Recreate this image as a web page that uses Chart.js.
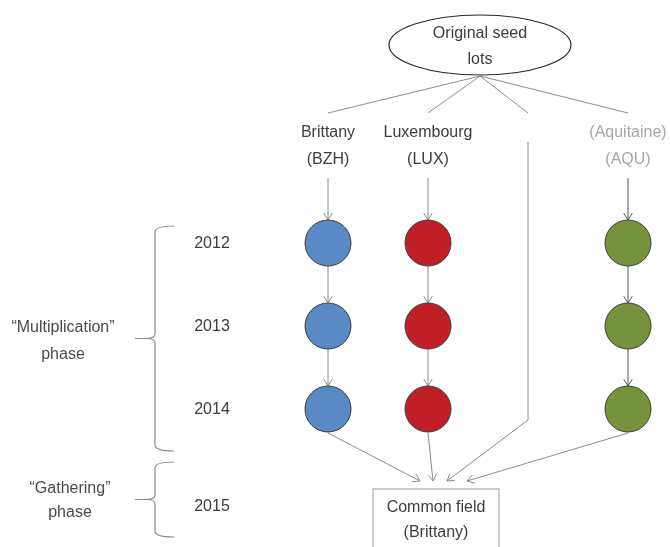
<!DOCTYPE html>
<html>
<head>
<meta charset="utf-8">
<script src="https://cdn.jsdelivr.net/npm/chart.js@4/dist/chart.umd.min.js"></script>
<style>
  body { margin: 0; background: #fff; }
  canvas { display: block; }
</style>
</head>
<body>
<canvas id="myChart" width="670" height="547"></canvas>
<script>
// columns of the diagram: three seed-lot sites and the direct path from the original lots
const lanes = ["BZH", "LUX", "direct", "AQU"];
const siteCodes = ["BZH", "LUX", "AQU"];
const siteNames = ["Brittany", "Luxembourg", "(Aquitaine)"];
const multiplicationYears = [2012, 2013, 2014];
const gatheringYear = 2015;
const originLabel = ["Original seed", "lots"];
const commonField = ["Common field", "(Brittany)"];
const phases = [
  { name: "\u201cMultiplication\u201d", years: multiplicationYears },
  { name: "\u201cGathering\u201d", years: [gatheringYear] }
];

const siteColors = ["#5a8ac6", "#c01f27", "#76923c"];
const FONT = "16px 'Liberation Sans', Arial, sans-serif";
const TEXT = "#3c3c3c";
const LINE = "#8c8c8c";
const R = 23;

function arrow(ctx, x1, y1, x2, y2, head) {
  ctx.beginPath();
  ctx.moveTo(x1, y1);
  ctx.lineTo(x2, y2);
  ctx.stroke();
  if (head) {
    const a = Math.atan2(y2 - y1, x2 - x1);
    const L = 8, W = 0.56;
    ctx.beginPath();
    ctx.moveTo(x2 - L * Math.cos(a - W), y2 - L * Math.sin(a - W));
    ctx.lineTo(x2, y2);
    ctx.lineTo(x2 - L * Math.cos(a + W), y2 - L * Math.sin(a + W));
    ctx.stroke();
  }
}

function brace(ctx, x, top, bottom, tipX) {
  const mid = (top + bottom) / 2;
  ctx.beginPath();
  ctx.moveTo(x + 19, top);
  ctx.quadraticCurveTo(x, top, x, top + 6);
  ctx.lineTo(x, mid - 5);
  ctx.quadraticCurveTo(x, mid, x - 8, mid);
  ctx.lineTo(tipX, mid);
  ctx.moveTo(x - 8, mid);
  ctx.quadraticCurveTo(x, mid, x, mid + 5);
  ctx.lineTo(x, bottom - 6);
  ctx.quadraticCurveTo(x, bottom, x + 19, bottom);
  ctx.stroke();
  return mid;
}

function text(ctx, str, x, y, color) {
  ctx.fillStyle = color || TEXT;
  ctx.fillText(str, x, y);
}

const diagramPlugin = {
  id: "diagram",
  beforeDatasetsDraw(chart) {
    const ctx = chart.ctx;
    const xs = chart.scales.x, ys = chart.scales.y;
    const lx = (code) => xs.getPixelForValue(lanes.indexOf(code));
    const y0 = ys.getPixelForValue(multiplicationYears[0]);
    const yLast = ys.getPixelForValue(multiplicationYears[multiplicationYears.length - 1]);
    const yG = ys.getPixelForValue(gatheringYear);
    const area = chart.chartArea;
    const cx = (area.left + area.right) / 2 + 2;

    ctx.save();
    ctx.lineWidth = 1;
    ctx.strokeStyle = LINE;

    // fan from the original seed lots
    const ox = cx, oy = y0 - 167;
    lanes.forEach((code) => arrow(ctx, ox, oy, lx(code), y0 - 130, false));

    // site label -> first year, and year -> year
    siteCodes.forEach((code, i) => {
      const x = lx(code);
      ctx.strokeStyle = i === 2 ? "#555" : LINE;
      arrow(ctx, x, y0 - 65, x, y0 - R, true);
      for (let k = 1; k < multiplicationYears.length; k++) {
        const ya = ys.getPixelForValue(multiplicationYears[k - 1]);
        const yb = ys.getPixelForValue(multiplicationYears[k]);
        arrow(ctx, x, ya + R, x, yb - R, true);
      }
    });

    // direct path
    ctx.strokeStyle = LINE;
    const dx = lx("direct");
    arrow(ctx, dx, y0 - 101, dx, yLast + 11, false);

    // everything converges on the common field
    const bc = lx("LUX") + 8;
    const tipY = yG - 11;
    const tipOff = { BZH: -16, LUX: -3, direct: 11, AQU: 31 };
    lanes.forEach((code) => {
      const x = lx(code);
      const sy = code === "direct" ? yLast + 11 : yLast + R + 1;
      arrow(ctx, x, sy, bc + tipOff[code], tipY, true);
    });

    // common field box
    ctx.strokeStyle = "#a0a0a0";
    ctx.strokeRect(bc - 63, yG - 3, 126, 80);

    // ellipse
    ctx.strokeStyle = "#2a2a2a";
    ctx.lineWidth = 1.2;
    ctx.beginPath();
    ctx.ellipse(cx, y0 - 198, 91, 30, 0, 0, Math.PI * 2);
    ctx.stroke();

    // braces
    ctx.strokeStyle = "#8c8c8c";
    ctx.lineWidth = 1.2;
    const m1 = brace(ctx, 155, y0 - 17, yLast + 42, 135);
    const m2 = brace(ctx, 155, yG - 30, yG + 45, 135);

    // texts
    ctx.font = FONT;
    ctx.textAlign = "center";
    ctx.textBaseline = "middle";
    text(ctx, originLabel[0], cx, y0 - 209);
    text(ctx, originLabel[1], cx, y0 - 183);
    siteCodes.forEach((code, i) => {
      const col = i === 2 ? "#a6a6a6" : TEXT;
      text(ctx, siteNames[i], lx(code), y0 - 110, col);
      text(ctx, "(" + code + ")", lx(code), y0 - 83, col);
    });
    multiplicationYears.forEach((yr) => text(ctx, String(yr), 212, ys.getPixelForValue(yr) + 1));
    text(ctx, String(gatheringYear), 212, yG + 15);
    text(ctx, commonField[0], bc, yG + 16);
    text(ctx, commonField[1], bc, yG + 41);
    text(ctx, phases[0].name, 63, m1 - 11, "#4a4a4a");
    text(ctx, "phase", 63, m1 + 16, "#4a4a4a");
    text(ctx, phases[1].name, 70, m2 - 11, "#4a4a4a");
    text(ctx, "phase", 70, m2 + 13, "#4a4a4a");
    ctx.restore();
  }
};

const datasets = siteCodes.map((code, i) => ({
  label: siteNames[i],
  data: multiplicationYears.map((yr) => ({ x: code, y: yr })),
  backgroundColor: siteColors[i],
  borderColor: "#3a3a3a",
  borderWidth: 1,
  pointRadius: R,
  pointHoverRadius: R,
  clip: false
}));

const config = {
  type: "scatter",
  data: { datasets: datasets },
  plugins: [diagramPlugin],
  options: {
    responsive: false,
    animation: false,
    devicePixelRatio: 1,
    events: [],
    layout: { padding: { left: 328, right: 42, top: 243, bottom: 55 } },
    scales: {
      x: { type: "category", labels: lanes, display: false, offset: false },
      y: { type: "linear", reverse: true, min: 2012, max: 2015, display: false }
    },
    plugins: {
      legend: { display: false },
      tooltip: { enabled: false }
    }
  }
};

new Chart(document.getElementById("myChart"), config);
</script>
</body>
</html>
